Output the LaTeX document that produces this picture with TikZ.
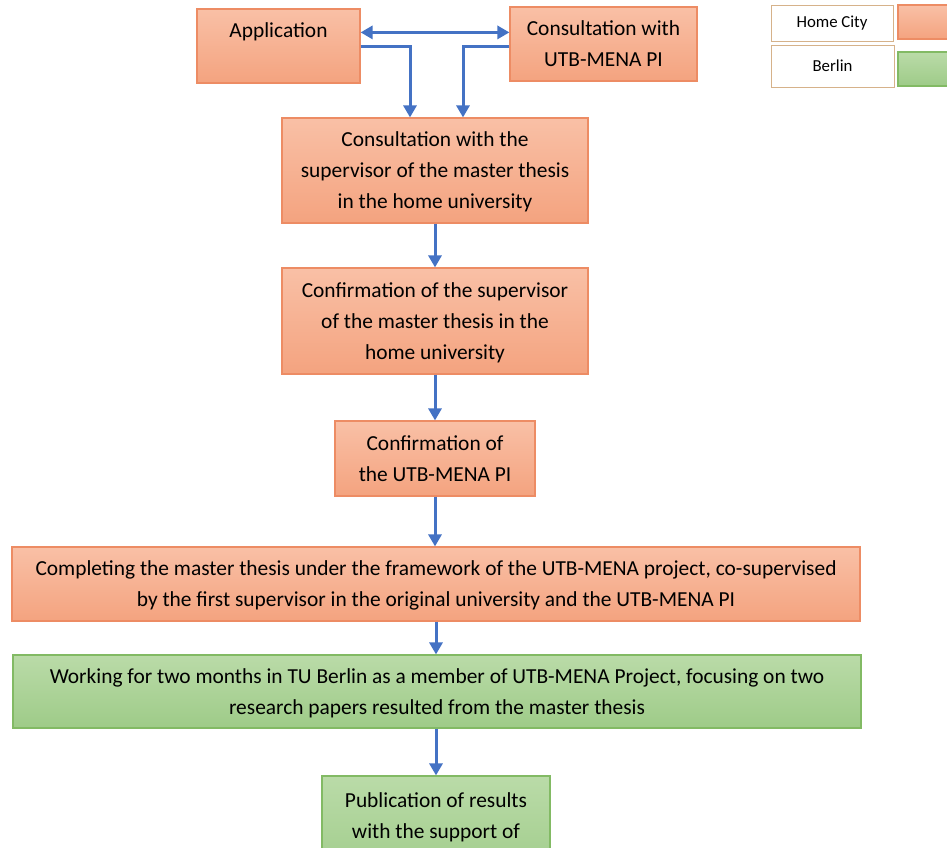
\documentclass[tikz,border=0pt]{standalone}
\usepackage{fontspec}
\setmainfont{Carlito}
\usetikzlibrary{arrows.meta, positioning}

\definecolor{blueline}{RGB}{68,114,196}
\definecolor{orangeline}{RGB}{237,140,100}
\definecolor{orangetop}{RGB}{249,192,166}
\definecolor{orangebot}{RGB}{244,163,127}
\definecolor{greenline}{RGB}{130,186,100}
\definecolor{greentop}{RGB}{186,219,168}
\definecolor{greenbot}{RGB}{158,203,136}
\definecolor{legendline}{RGB}{214,178,138}

\begin{document}
\begin{tikzpicture}[x=0.5pt, y=-0.5pt,
    homebox/.style={draw=orangeline, line width=0.6pt, top color=orangetop, bottom color=orangebot,
      inner sep=0pt, align=center, text depth=0pt, font=\fontsize{10.7}{15.5}\selectfont},
    berlinbox/.style={homebox, draw=greenline, top color=greentop, bottom color=greenbot},
    legendbox/.style={draw=legendline, line width=0.5pt, fill=white, inner sep=0pt,
      font=\fontsize{8.4}{10}\selectfont},
    flow/.style={draw=blueline, line width=1.5pt, -{Triangle[length=6pt, width=6.5pt]}}]
\fill[white] (0,0) rectangle (947,847);
\useasboundingbox (0,0) rectangle (947,847);
\clip (0,0) rectangle (947,847);

% steps
\node[homebox, minimum width=81.5pt, minimum height=37pt, text depth=-2pt] (app) at (278.5,46) {Application\\~};
\node[homebox, minimum width=93.5pt, minimum height=37pt, text depth=-1.5pt] (conspi) at (603.5,44) {Consultation with\\UTB-MENA PI};
\node[homebox, minimum width=153pt, minimum height=52.5pt] (conssup) at (435,170.5)
  {Consultation with the\\supervisor of the master thesis\\in the home university};
\node[homebox, minimum width=153pt, minimum height=53pt] (confsup) at (435,321)
  {Confirmation of the supervisor\\of the master thesis in the\\home university};
\node[homebox, minimum width=100pt, minimum height=37.5pt] (confpi) at (435,458.5)
  {Confirmation of\\the UTB-MENA PI};
\node[homebox, minimum width=424pt, minimum height=37pt] (complete) at (436,584)
  {Completing the master thesis under the framework of the UTB-MENA project, co-supervised\\
   by the first supervisor in the original university and the UTB-MENA PI};
\node[berlinbox, minimum width=424pt, minimum height=36.5pt] (work) at (437,691.5)
  {Working for two months in TU Berlin as a member of UTB-MENA Project, focusing on two\\
   research papers resulted from the master thesis};
\node[berlinbox, minimum width=114pt, minimum height=55pt] (publ) at (436,831)
  {Publication of results\\with the support of\\~};

% legend
\node[legendbox, minimum width=61pt, minimum height=18pt] (homelbl) at (832,23) {Home City};
\node[legendbox, minimum width=61.5pt, minimum height=21pt] (berlinlbl) at (832.5,66) {Berlin};
\node[homebox, minimum width=31pt, minimum height=17pt] (homekey) at (929,22) {};
\node[berlinbox, minimum width=31pt, minimum height=17pt] (berlinkey) at (929,69) {};

% connectors
\draw[flow, {Triangle[length=6pt, width=6.5pt]}-{Triangle[length=6pt, width=6.5pt]}]
  ([yshift=6.8pt]app.east) -- ([yshift=6.8pt]app.east -| conspi.west);
\draw[flow] (app.east) -| ([xshift=-12.5pt]conssup.north);
\draw[flow] (conspi.west |- app.east) -| ([xshift=14pt]conssup.north);
\draw[flow] (conssup.south) -- (confsup.north);
\draw[flow] (confsup.south) -- (confpi.north);
\draw[flow] (confpi.south) -- (complete.north -| confpi.south);
\draw[flow] (complete.south) -- (work.north -| complete.south);
\draw[flow] (work.south -| publ.north) -- (publ.north);
\end{tikzpicture}
\end{document}
